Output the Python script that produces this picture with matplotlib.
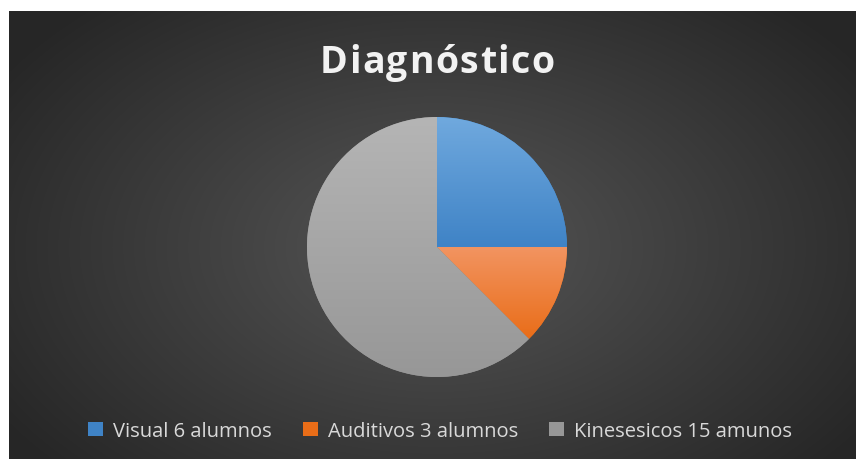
import numpy as np
import matplotlib.pyplot as plt
from matplotlib.colors import LinearSegmentedColormap
from matplotlib.patches import Rectangle

# data
categories = ['Visual 6 alumnos', 'Auditivos 3 alumnos', 'Kinesesicos 15 amunos']
values = [6, 3, 15]
title = 'Diagnóstico'

tops = ['#70A9DE', '#F29461', '#B5B5B5']
bottoms = ['#3F83C6', '#E96D18', '#979797']

W, H = 856, 460
fig = plt.figure(figsize=(W / 100, H / 100), dpi=100, facecolor='white')

# radial background
bg = fig.add_axes([9 / W, 0, (W - 9) / W, (H - 12) / H])
yy, xx = np.mgrid[0:448, 0:847]
d = np.sqrt(((xx - 428) / 520) ** 2 + ((yy - 236) / 330) ** 2)
lum = 0x56 - (0x56 - 0x26) * np.clip(d, 0, 1)
img = np.dstack([lum, lum, lum]) / 255
bg.imshow(img, aspect='auto', interpolation='bilinear')
bg.axis('off')

# pie
ax = fig.add_axes([307 / W, 82 / H, 260 / W, 260 / H])
wedges, _ = ax.pie(values, startangle=90, counterclock=False, radius=1,
                   colors=bottoms, wedgeprops=dict(linewidth=0))
for w, t, b in zip(wedges, tops, bottoms):
    ext = w.get_path().get_extents()
    cmap = LinearSegmentedColormap.from_list('g', [b, t])
    grad = np.linspace(0, 1, 256).reshape(-1, 1)
    im = ax.imshow(grad, cmap=cmap, origin='lower', aspect='auto',
                   extent=[ext.x0, ext.x1, ext.y0, ext.y1], zorder=2)
    im.set_clip_path(w)
ax.set_xlim(-1, 1)
ax.set_ylim(-1, 1)
ax.set_aspect('equal')
ax.axis('off')

# title with letter spacing, drawn char by char
renderer = fig.canvas.get_renderer()
spacing = 1.5
chars = []
x = 0
for ch in title:
    t = fig.text(0, 1 - 63 / H, ch, ha='left', va='center', fontsize=27,
                 fontweight='bold', color='#F2F2F2', family='Open Sans')
    wpx = t.get_window_extent(renderer).width
    chars.append((t, x))
    x += wpx + spacing
total = x - spacing
start = 437 - total / 2
for t, off in chars:
    t.set_x((start + off) / W)

# legend
handles = [Rectangle((0, 0), 1, 1, facecolor=c, edgecolor='none') for c in bottoms]
leg = fig.legend(handles, categories, loc='center', bbox_to_anchor=(440 / W, 1 - 432 / H),
                 ncol=3, frameon=False, handlelength=0.74, handleheight=0.74,
                 handletextpad=0.5, columnspacing=1.55,
                 prop={'family': 'Open Sans', 'size': 14.5})
for t in leg.get_texts():
    t.set_color('#D9D9D9')

fig.savefig('out.png', dpi=100, facecolor='white')
